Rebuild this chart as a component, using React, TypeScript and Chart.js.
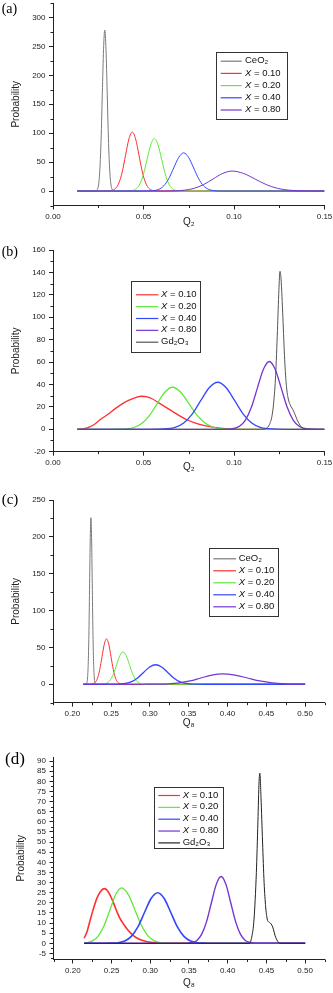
import React, { useEffect, useRef } from "react";
import { Chart, registerables } from "chart.js";

Chart.register(...registerables);

// ---------- Panel (a): Q2, CeO2 + doped ----------
const aCeO2X = [0.0134, 0.0232, 0.02455, 0.02523, 0.0259, 0.02658, 0.02725, 0.02793, 0.0286, 0.02928, 0.02995, 0.03063, 0.0313, 0.03198, 0.03265, 0.034, 0.15];
const aCeO2Y = [0, 0, 3, 12, 38, 90, 169, 245, 278, 245, 169, 90, 38, 12, 3, 0, 0];
const a010X = [0.0134, 0.029, 0.03085, 0.0327, 0.03455, 0.0364, 0.03825, 0.0401, 0.04195, 0.0438, 0.04565, 0.0475, 0.04935, 0.0512, 0.05305, 0.0549, 0.05675, 0.0586, 0.15];
const a010Y = [0, 0, 0.2, 1.1, 4.5, 13.8, 33, 62, 90, 102, 90, 62, 33, 13.8, 4.5, 1.1, 0.2, 0, 0];
const a020X = [0.0134, 0.04, 0.042, 0.044, 0.046, 0.048, 0.05, 0.052, 0.054, 0.056, 0.058, 0.06, 0.062, 0.064, 0.066, 0.068, 0.07, 0.072, 0.15];
const a020Y = [0, 0, 0.2, 1, 4, 12.3, 29.5, 55, 80, 91, 80, 55, 29.5, 12.3, 4, 1, 0.2, 0, 0];
const a040X = [0.0134, 0.05, 0.05295, 0.0557, 0.05845, 0.0612, 0.06395, 0.0667, 0.06945, 0.0722, 0.07495, 0.0777, 0.08045, 0.0832, 0.08595, 0.0887, 0.09145, 0.094, 0.15];
const a040Y = [0, 0, 0.1, 0.7, 2.9, 8.9, 21.4, 40, 58, 66, 58, 40, 21.4, 8.9, 2.9, 0.7, 0.1, 0, 0];
const a080X = [0.0134, 0.057, 0.06225, 0.0675, 0.07275, 0.078, 0.08325, 0.0885, 0.09375, 0.099, 0.10525, 0.1115, 0.11775, 0.124, 0.13025, 0.1365, 0.14275, 0.15];
const a080Y = [0, 0, 0.1, 0.4, 1.5, 4.7, 11.2, 21, 30.4, 34.5, 30.4, 21, 11.2, 4.7, 1.5, 0.4, 0.1, 0];
const aXTicks = [0, 0.05, 0.1, 0.15];
const aYTicks = [0, 50, 100, 150, 200, 250, 300];

// ---------- Panel (b): Q2, Gd2O3 + doped ----------
const b010X = [0.0134, 0.017, 0.02, 0.023, 0.026, 0.03, 0.034, 0.038, 0.042, 0.046, 0.049, 0.052, 0.055, 0.058, 0.062, 0.066, 0.07, 0.074, 0.078, 0.082, 0.086, 0.09, 0.095, 0.1, 0.105, 0.15];
const b010Y = [0, 0.5, 2, 4.5, 8.5, 13, 18, 22.5, 26, 28.5, 29.5, 29, 27, 24, 20, 16, 12, 8.5, 6, 4, 2.5, 1.4, 0.6, 0.2, 0, 0];
const b020X = [0.0134, 0.032, 0.03625, 0.0405, 0.04475, 0.049, 0.05325, 0.0575, 0.06175, 0.066, 0.0706, 0.0752, 0.0798, 0.0844, 0.089, 0.0936, 0.0982, 0.103, 0.15];
const b020Y = [0, 0, 0.1, 0.4, 1.6, 5.1, 12.2, 22.7, 33.1, 37.5, 33.1, 22.7, 12.2, 5.1, 1.6, 0.4, 0.1, 0, 0];
const b040X = [0.0134, 0.054, 0.0581, 0.0628, 0.0675, 0.0722, 0.0769, 0.0816, 0.0863, 0.091, 0.0957, 0.1004, 0.1051, 0.1098, 0.1145, 0.1192, 0.1239, 0.128, 0.15];
const b040Y = [0, 0, 0.1, 0.5, 1.8, 5.7, 13.6, 25.5, 37.1, 42, 37.1, 25.5, 13.6, 5.7, 1.8, 0.5, 0.1, 0, 0];
const b080X = [0.0134, 0.093, 0.0964, 0.0997, 0.103, 0.1063, 0.1096, 0.1129, 0.1162, 0.1195, 0.1228, 0.1261, 0.1294, 0.1327, 0.136, 0.1393, 0.1426, 0.146, 0.15];
const b080Y = [0, 0, 0.1, 0.7, 2.7, 8.2, 19.6, 36.7, 53.4, 60.5, 53.4, 36.7, 19.6, 8.2, 2.7, 0.7, 0.1, 0, 0];
const bGdX = [0.0134, 0.1165, 0.118, 0.1195, 0.121, 0.122, 0.123, 0.124, 0.1248, 0.1254, 0.126, 0.127, 0.128, 0.129, 0.13, 0.131, 0.132, 0.133, 0.134, 0.135, 0.136, 0.137, 0.1385, 0.15];
const bGdY = [0, 0, 1, 4, 12, 25, 48, 88, 124, 141, 134, 100, 62, 38, 27, 22, 19, 16, 12, 8, 5, 2.5, 0.5, 0];
const bXTicks = [0, 0.05, 0.1, 0.15];
const bYTicks = [-20, 0, 20, 40, 60, 80, 100, 120, 140, 160];

// ---------- Panel (c): Q8, CeO2 + doped ----------
const cCeO2X = [0.214, 0.2171, 0.2188, 0.21965, 0.2205, 0.22135, 0.2222, 0.22305, 0.2239, 0.22475, 0.2256, 0.22645, 0.2273, 0.22815, 0.229, 0.2307, 0.5];
const cCeO2Y = [0, 0, 2.5, 10, 31, 73, 137, 199, 226, 199, 137, 73, 31, 10, 2.5, 0, 0];
const c010X = [0.214, 0.2208, 0.2237, 0.2266, 0.2295, 0.2324, 0.2353, 0.2382, 0.2411, 0.244, 0.2469, 0.2498, 0.2527, 0.2556, 0.2585, 0.2614, 0.2643, 0.2672, 0.5];
const c010Y = [0, 0, 0.1, 0.7, 2.7, 8.3, 20, 37.3, 54.3, 61.5, 54.3, 37.3, 20, 8.3, 2.7, 0.7, 0.1, 0, 0];
const c020X = [0.214, 0.2325, 0.2366, 0.2407, 0.2448, 0.2489, 0.253, 0.2571, 0.2612, 0.2653, 0.2694, 0.2735, 0.2776, 0.2817, 0.2858, 0.2899, 0.294, 0.298, 0.5];
const c020Y = [0, 0, 0.1, 0.5, 1.9, 6, 14.3, 26.7, 38.8, 44, 38.8, 26.7, 14.3, 6, 1.9, 0.5, 0.1, 0, 0];
const c040X = [0.214, 0.245, 0.253, 0.2608, 0.2686, 0.2763, 0.2841, 0.2918, 0.2996, 0.3073, 0.315, 0.3228, 0.3306, 0.3383, 0.3461, 0.3538, 0.3616, 0.369, 0.5];
const c040Y = [0, 0, 0.1, 0.3, 1.2, 3.6, 8.6, 16.1, 23.4, 26.5, 23.4, 16.1, 8.6, 3.6, 1.2, 0.3, 0.1, 0, 0];
const c080X = [0.214, 0.285, 0.2956, 0.3096, 0.3236, 0.3376, 0.3516, 0.3656, 0.3796, 0.3936, 0.4096, 0.4256, 0.4416, 0.4576, 0.4736, 0.4896, 0.5];
const c080Y = [0, 0, 0.1, 0.2, 0.6, 1.9, 4.5, 8.5, 12.4, 14, 12.4, 8.5, 4.5, 1.9, 0.6, 0.2, 0.1];
const cXTicks = [0.2, 0.25, 0.3, 0.35, 0.4, 0.45, 0.5];
const cYTicks = [0, 50, 100, 150, 200, 250];

// ---------- Panel (d): Q8, Gd2O3 + doped ----------
const d010X = [0.2146, 0.2185, 0.2224, 0.2265, 0.231, 0.2355, 0.2405, 0.2448, 0.2491, 0.2535, 0.2578, 0.262, 0.2663, 0.2705, 0.275, 0.281, 0.288, 0.295, 0.301, 0.31, 0.318, 0.5];
const d010Y = [2.5, 6, 11.5, 17, 22.2, 25.5, 27, 26, 23, 19, 14.8, 11.5, 9, 6.8, 4.9, 3, 1.6, 0.9, 0.5, 0.2, 0, 0];
const d020X = [0.2146, 0.218, 0.2255, 0.233, 0.2405, 0.248, 0.2555, 0.263, 0.2715, 0.28, 0.2885, 0.297, 0.3055, 0.314, 0.3225, 0.33, 0.5];
const d020Y = [0.15, 0.3, 1.2, 3.7, 8.9, 16.6, 24.2, 27.4, 24.2, 16.6, 8.9, 3.7, 1.2, 0.3, 0.1, 0, 0];
const d040X = [0.2146, 0.243, 0.25, 0.2585, 0.267, 0.2755, 0.284, 0.2925, 0.301, 0.3095, 0.318, 0.3265, 0.335, 0.3435, 0.352, 0.3605, 0.369, 0.377, 0.5];
const d040Y = [0, 0, 0.1, 0.3, 1.1, 3.4, 8.1, 15.2, 22.1, 25, 22.1, 15.2, 8.1, 3.4, 1.1, 0.3, 0.1, 0, 0];
const d080X = [0.2146, 0.342, 0.3477, 0.3539, 0.3602, 0.3664, 0.3727, 0.3789, 0.3852, 0.3914, 0.3977, 0.4039, 0.4102, 0.4164, 0.4227, 0.4289, 0.4352, 0.441, 0.5];
const d080Y = [0, 0, 0.1, 0.4, 1.4, 4.5, 10.7, 20, 29.1, 33, 29.1, 20, 10.7, 4.5, 1.4, 0.4, 0.1, 0, 0];
const dGdX = [0.2146, 0.428, 0.431, 0.434, 0.437, 0.439, 0.4405, 0.4415, 0.443, 0.445, 0.447, 0.449, 0.451, 0.453, 0.455, 0.457, 0.459, 0.461, 0.463, 0.466, 0.468, 0.5];
const dGdY = [0, 0, 3, 12, 35, 60, 80, 84, 72, 50, 30, 18, 12, 10.5, 10, 9, 7, 4, 2, 0.3, 0, 0];
const dXTicks = [0.2, 0.25, 0.3, 0.35, 0.4, 0.45, 0.5];
const dYTicks = [-5, 0, 5, 10, 15, 20, 25, 30, 35, 40, 45, 50, 55, 60, 65, 70, 75, 80, 85, 90];

// labels
const L_CEO2 = "CeO\u2082";
const L_GD2O3 = "Gd\u2082O\u2083";
const L_010 = "X = 0.10";
const L_020 = "X = 0.20";
const L_040 = "X = 0.40";
const L_080 = "X = 0.80";

// ---------- styles ----------
const W = 333;
const AXIS = "#222";
const SANS = "'Liberation Sans', Arial, Helvetica, sans-serif";
const SERIF = "'Liberation Serif', 'Times New Roman', serif";
const C_GRAY = "#7a7a7a";
const C_GRAY_B = "#555555";
const C_BLACK = "#222222";
const C_RED = "#ff3030";
const C_GREEN = "#5ee83a";
const C_BLUE = "#3447ff";
const C_PURPLE = "#7436d2";

type Series = { label: string; xs: number[]; ys: number[]; color: string; width: number; order: number };
type Panel = {
  top: number;
  height: number;
  area: { left: number; top: number; right: number; bottom: number };
  xh: number;
  yTitlePad: number;
  xRange: [number, number];
  yRange: [number, number];
  xTicks: number[];
  yTicks: number[];
  xDigits: number;
  xTitle: string;
  series: Series[];
  legend: { x: number; y: number; w: number; h: number; firstRow: number; gap: number; lineX1: number; lineX2: number; textX: number };
  tag: { text: string; x: number; y: number; size: number };
};

const PANELS: Panel[] = [
  {
    top: 0,
    height: 240,
    area: { left: 53, top: 3, right: 324.5, bottom: 205.5 },
    xh: 23,
    yTitlePad: 10.7,
    xRange: [0, 0.15],
    yRange: [-25, 325],
    xTicks: aXTicks,
    yTicks: aYTicks,
    xDigits: 2,
    xTitle: "Q\u2082",
    series: [
      { label: L_CEO2, xs: aCeO2X, ys: aCeO2Y, color: C_GRAY, width: 1, order: 5 },
      { label: L_010, xs: a010X, ys: a010Y, color: C_RED, width: 1, order: 4 },
      { label: L_020, xs: a020X, ys: a020Y, color: C_GREEN, width: 1, order: 3 },
      { label: L_040, xs: a040X, ys: a040Y, color: C_BLUE, width: 1, order: 2 },
      { label: L_080, xs: a080X, ys: a080Y, color: C_PURPLE, width: 1, order: 1 },
    ],
    legend: { x: 216, y: 51.7, w: 70.7, h: 67.3, firstRow: 60.7, gap: 12.2, lineX1: 220.7, lineX2: 241.7, textX: 245 },
    tag: { text: "(a)", x: 1.7, y: 9.2, size: 14 },
  },
  {
    top: 240,
    height: 245,
    area: { left: 53, top: 10, right: 324.5, bottom: 211.7 },
    xh: 22,
    yTitlePad: 10.7,
    xRange: [0, 0.15],
    yRange: [-20, 160],
    xTicks: bXTicks,
    yTicks: bYTicks,
    xDigits: 2,
    xTitle: "Q\u2082",
    series: [
      { label: L_010, xs: b010X, ys: b010Y, color: C_RED, width: 1.3, order: 4 },
      { label: L_020, xs: b020X, ys: b020Y, color: C_GREEN, width: 1.3, order: 3 },
      { label: L_040, xs: b040X, ys: b040Y, color: C_BLUE, width: 1.3, order: 2 },
      { label: L_080, xs: b080X, ys: b080Y, color: C_PURPLE, width: 1.3, order: 1 },
      { label: L_GD2O3, xs: bGdX, ys: bGdY, color: C_GRAY_B, width: 1, order: 0 },
    ],
    legend: { x: 131, y: 41, w: 69, h: 71.3, firstRow: 54.3, gap: 11.85, lineX1: 136, lineX2: 158.3, textX: 161 },
    tag: { text: "(b)", x: 1.7, y: 12.5, size: 14 },
  },
  {
    top: 485,
    height: 250,
    area: { left: 53, top: 15, right: 324.5, bottom: 217.7 },
    xh: 26.5,
    yTitlePad: 10.7,
    xRange: [0.175, 0.525],
    yRange: [-25, 250],
    xTicks: cXTicks,
    yTicks: cYTicks,
    xDigits: 2,
    xTitle: "Q\u2088",
    series: [
      { label: L_CEO2, xs: cCeO2X, ys: cCeO2Y, color: C_GRAY, width: 1, order: 5 },
      { label: L_010, xs: c010X, ys: c010Y, color: C_RED, width: 1, order: 4 },
      { label: L_020, xs: c020X, ys: c020Y, color: C_GREEN, width: 1, order: 3 },
      { label: L_040, xs: c040X, ys: c040Y, color: C_BLUE, width: 1.3, order: 2 },
      { label: L_080, xs: c080X, ys: c080Y, color: C_PURPLE, width: 1.2, order: 1 },
    ],
    legend: { x: 209.3, y: 63.3, w: 69, h: 67.7, firstRow: 73.3, gap: 12, lineX1: 213.3, lineX2: 236, textX: 238.7 },
    tag: { text: "(c)", x: 1.7, y: 15, size: 15 },
  },
  {
    top: 735,
    height: 258,
    area: { left: 53.5, top: 22, right: 324.5, bottom: 224.5 },
    xh: 30,
    yTitlePad: 15.7,
    xRange: [0.175, 0.525],
    yRange: [-8, 92],
    xTicks: dXTicks,
    yTicks: dYTicks,
    xDigits: 2,
    xTitle: "Q\u2088",
    series: [
      { label: L_010, xs: d010X, ys: d010Y, color: C_RED, width: 1.6, order: 4 },
      { label: L_020, xs: d020X, ys: d020Y, color: C_GREEN, width: 1.3, order: 3 },
      { label: L_040, xs: d040X, ys: d040Y, color: C_BLUE, width: 1.6, order: 2 },
      { label: L_080, xs: d080X, ys: d080Y, color: C_PURPLE, width: 1.4, order: 1 },
      { label: L_GD2O3, xs: dGdX, ys: dGdY, color: C_BLACK, width: 1, order: 0 },
    ],
    legend: { x: 154, y: 51.7, w: 69.3, h: 60.6, firstRow: 60, gap: 11.85, lineX1: 158.3, lineX2: 180, textX: 182.7 },
    tag: { text: "(d)", x: 5, y: 25, size: 17 },
  },
];

function minorTicks(major: number[], lo: number, hi: number): number[] {
  const step = major[1] - major[0];
  const cand = [major[0] - step / 2, ...major.map((m) => m + step / 2)];
  const eps = step * 1e-6;
  return cand.filter((v) => v >= lo - eps && v <= hi + eps);
}

function makeDecor(p: Panel) {
  const xMinor = minorTicks(p.xTicks, p.xRange[0], p.xRange[1]);
  const yMinor = minorTicks(p.yTicks, p.yRange[0], p.yRange[1]);
  return {
    id: "decor",
    afterDraw(chart: any) {
      const ctx: CanvasRenderingContext2D = chart.ctx;
      const xs = chart.scales.x;
      const ys = chart.scales.y;
      const area = chart.chartArea;
      ctx.save();
      // minor ticks
      ctx.strokeStyle = AXIS;
      ctx.lineWidth = 1;
      ctx.beginPath();
      for (const v of xMinor) {
        const px = Math.round(xs.getPixelForValue(v)) + 0.5;
        ctx.moveTo(px, area.bottom);
        ctx.lineTo(px, area.bottom + 2.5);
      }
      for (const v of yMinor) {
        const py = Math.round(ys.getPixelForValue(v)) + 0.5;
        ctx.moveTo(area.left, py);
        ctx.lineTo(area.left - 2.5, py);
      }
      ctx.stroke();

      // legend box
      const L = p.legend;
      ctx.fillStyle = "#fff";
      ctx.fillRect(L.x, L.y, L.w, L.h);
      ctx.strokeStyle = "#333";
      ctx.lineWidth = 1;
      ctx.strokeRect(Math.round(L.x) + 0.5, Math.round(L.y) + 0.5, Math.round(L.w), Math.round(L.h));
      const fs = 9.5;
      chart.data.datasets.forEach((ds: any, i: number) => {
        const y = L.firstRow + i * L.gap;
        ctx.strokeStyle = ds.borderColor;
        ctx.lineWidth = 1.2;
        ctx.beginPath();
        ctx.moveTo(L.lineX1, y + 0.5);
        ctx.lineTo(L.lineX2, y + 0.5);
        ctx.stroke();
        ctx.fillStyle = "#111";
        ctx.textBaseline = "middle";
        ctx.textAlign = "left";
        const label: string = ds.label;
        if (label.startsWith("X ")) {
          ctx.font = `italic ${fs}px ${SANS}`;
          ctx.fillText("X", L.textX, y);
          const w = ctx.measureText("X").width;
          ctx.font = `${fs}px ${SANS}`;
          ctx.fillText(label.slice(1), L.textX + w, y);
        } else {
          ctx.font = `${fs}px ${SANS}`;
          ctx.fillText(label, L.textX, y);
        }
      });

      // panel tag
      ctx.fillStyle = "#000";
      ctx.font = `${p.tag.size}px ${SERIF}`;
      ctx.textBaseline = "middle";
      ctx.textAlign = "left";
      ctx.fillText(p.tag.text, p.tag.x, p.tag.y);
      ctx.restore();
    },
  };
}

function buildChart(canvas: HTMLCanvasElement, p: Panel) {
  const padRight = W - p.area.right;
  const padBottom = p.height - p.area.bottom - p.xh;
  const tickFont = { size: 8, family: SANS };
  const titleFont = { size: 10, family: SANS };
  return new Chart(canvas, {
    type: "line",
    data: {
      datasets: p.series.map((s) => ({
        label: s.label,
        data: s.xs.map((x, i) => ({ x, y: s.ys[i] })),
        borderColor: s.color,
        backgroundColor: s.color,
        borderWidth: s.width,
        pointRadius: 0,
        cubicInterpolationMode: "monotone",
        fill: false,
        order: s.order,
      })),
    },
    options: {
      responsive: false,
      animation: false,
      events: [],
      layout: { padding: { left: 0, top: p.area.top, right: padRight, bottom: padBottom } },
      plugins: { legend: { display: false }, tooltip: { enabled: false } },
      scales: {
        x: {
          type: "linear",
          min: p.xRange[0],
          max: p.xRange[1],
          afterBuildTicks: (scale: any) => {
            scale.ticks = p.xTicks.map((v) => ({ value: v }));
          },
          afterFit: (scale: any) => {
            scale.height = p.xh;
            scale.paddingLeft = 0;
            scale.paddingRight = 0;
            scale.paddingTop = 0;
            scale.paddingBottom = 0;
          },
          ticks: {
            autoSkip: false,
            maxRotation: 0,
            padding: 2,
            color: AXIS,
            font: tickFont,
            callback: (v: any) => Number(v).toFixed(p.xDigits),
          },
          grid: { drawOnChartArea: false, drawTicks: true, tickLength: 4, color: AXIS, lineWidth: 1 },
          border: { display: true, color: AXIS, width: 1 },
          title: { display: true, text: p.xTitle, color: AXIS, font: titleFont, padding: { top: 0, bottom: 0 } },
        },
        y: {
          type: "linear",
          min: p.yRange[0],
          max: p.yRange[1],
          afterBuildTicks: (scale: any) => {
            scale.ticks = p.yTicks.map((v) => ({ value: v }));
          },
          afterFit: (scale: any) => {
            scale.width = p.area.left;
            scale.paddingLeft = 0;
            scale.paddingRight = 0;
            scale.paddingTop = 0;
            scale.paddingBottom = 0;
          },
          ticks: {
            autoSkip: false,
            padding: 3.5,
            color: AXIS,
            font: tickFont,
            callback: (v: any) => String(v),
          },
          grid: { drawOnChartArea: false, drawTicks: true, tickLength: 4, color: AXIS, lineWidth: 1 },
          border: { display: true, color: AXIS, width: 1 },
          title: { display: true, text: "Probability", color: AXIS, font: titleFont, padding: { top: p.yTitlePad, bottom: 0 } },
        },
      },
    } as any,
    plugins: [makeDecor(p)],
  });
}

function PanelChart({ p }: { p: Panel }) {
  const ref = useRef<HTMLCanvasElement | null>(null);
  useEffect(() => {
    if (!ref.current) return;
    const chart = buildChart(ref.current, p);
    return () => chart.destroy();
  }, [p]);
  return (
    <canvas
      ref={ref}
      width={W}
      height={p.height}
      style={{ position: "absolute", left: 0, top: p.top, width: W, height: p.height, display: "block" }}
    />
  );
}

export default function App() {
  return (
    <div style={{ position: "absolute", left: 0, top: 0, width: W, height: 993, background: "#fff", overflow: "hidden" }}>
      {PANELS.map((p, i) => (
        <PanelChart key={i} p={p} />
      ))}
    </div>
  );
}
